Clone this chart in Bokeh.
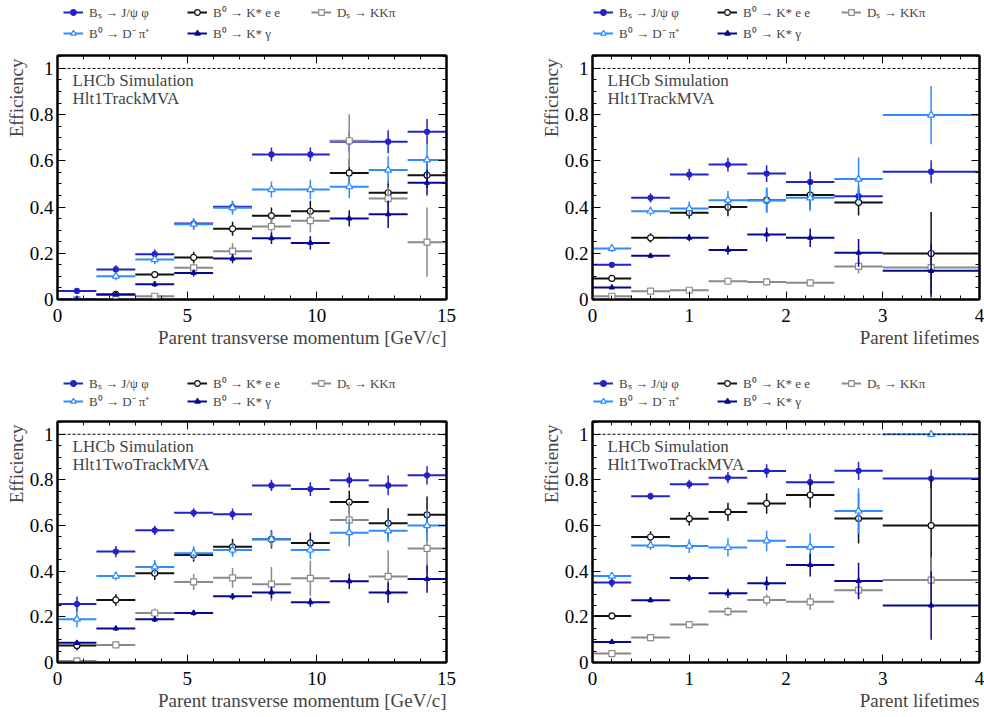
import numpy as np
from bokeh.plotting import figure
from bokeh.models import (Range1d, SingleIntervalTicker, LinearAxis, Span, Label, Title,
                          Legend, LegendItem, ColumnDataSource, CustomJSTickFormatter)
from bokeh.layouts import column, row
from bokeh.embed import file_html
from bokeh.resources import INLINE

# ---------------- data ----------------
pt_edges = [0, 1.5, 3, 4.5, 6, 7.5, 9, 10.5, 12, 13.5, 15]
tau_edges = [0, 0.4, 0.8, 1.2, 1.6, 2.0, 2.5, 3.0, 4.0]

decay_labels = ["Bₛ → J/ψ φ", "B⁰ → K* e e", "Dₛ → KKπ", "B⁰ → D⁻ π⁺", "B⁰ → K* γ"]

# Hlt1TrackMVA vs pT
trk_pt_bs = [0.037, 0.13, 0.196, 0.329, 0.401, 0.628, 0.628, 0.683, 0.683, 0.726]
trk_pt_bs_err = [0.012, 0.018, 0.02, 0.022, 0.025, 0.03, 0.03, 0.045, 0.05, 0.055]
trk_pt_kee = [0.0, 0.022, 0.108, 0.182, 0.306, 0.362, 0.382, 0.548, 0.462, 0.538]
trk_pt_kee_err = [0.005, 0.008, 0.015, 0.025, 0.03, 0.036, 0.045, 0.06, 0.05, 0.055]
trk_pt_ds = [0.0, 0.0, 0.014, 0.137, 0.209, 0.316, 0.341, 0.687, 0.437, 0.248]
trk_pt_ds_err = [0.0, 0.004, 0.008, 0.02, 0.035, 0.04, 0.05, 0.115, 0.05, 0.15]
trk_pt_dpi = [0.0, 0.101, 0.173, 0.326, 0.397, 0.476, 0.476, 0.488, 0.56, 0.604]
trk_pt_dpi_err = [0.005, 0.018, 0.02, 0.025, 0.03, 0.035, 0.042, 0.05, 0.06, 0.07]
trk_pt_kg = [0.0, 0.022, 0.066, 0.115, 0.177, 0.265, 0.245, 0.351, 0.369, 0.505]
trk_pt_kg_err = [0.005, 0.008, 0.012, 0.015, 0.02, 0.025, 0.03, 0.035, 0.06, 0.055]

# Hlt1TrackMVA vs lifetime
trk_tau_bs = [0.15, 0.44, 0.541, 0.584, 0.545, 0.509, 0.447, 0.553]
trk_tau_bs_err = [0.01, 0.02, 0.025, 0.03, 0.036, 0.045, 0.045, 0.05]
trk_tau_kee = [0.091, 0.267, 0.375, 0.40, 0.43, 0.452, 0.42, 0.199]
trk_tau_kee_err = [0.01, 0.02, 0.025, 0.04, 0.05, 0.06, 0.056, 0.18]
trk_tau_ds = [0.014, 0.036, 0.04, 0.079, 0.076, 0.072, 0.143, 0.138]
trk_tau_ds_err = [0.005, 0.006, 0.01, 0.015, 0.015, 0.015, 0.03, 0.03]
trk_tau_dpi = [0.221, 0.382, 0.394, 0.43, 0.43, 0.44, 0.521, 0.798]
trk_tau_dpi_err = [0.015, 0.02, 0.03, 0.04, 0.056, 0.058, 0.094, 0.126]
trk_tau_kg = [0.052, 0.189, 0.267, 0.214, 0.281, 0.267, 0.202, 0.124]
trk_tau_kg_err = [0.006, 0.01, 0.015, 0.02, 0.031, 0.04, 0.06, 0.115]

# Hlt1TwoTrackMVA vs pT
two_pt_bs = [0.256, 0.486, 0.579, 0.656, 0.65, 0.776, 0.76, 0.799, 0.776, 0.82]
two_pt_bs_err = [0.032, 0.025, 0.02, 0.02, 0.025, 0.025, 0.03, 0.032, 0.043, 0.04]
two_pt_kee = [0.074, 0.274, 0.391, 0.471, 0.507, 0.54, 0.524, 0.703, 0.61, 0.647]
two_pt_kee_err = [0.02, 0.025, 0.03, 0.03, 0.035, 0.04, 0.046, 0.05, 0.066, 0.08]
two_pt_ds = [0.007, 0.077, 0.217, 0.353, 0.371, 0.343, 0.369, 0.624, 0.377, 0.50]
two_pt_ds_err = [0.005, 0.01, 0.02, 0.035, 0.043, 0.075, 0.077, 0.08, 0.115, 0.11]
two_pt_dpi = [0.19, 0.379, 0.419, 0.479, 0.493, 0.54, 0.493, 0.569, 0.577, 0.60]
two_pt_dpi_err = [0.036, 0.02, 0.03, 0.03, 0.03, 0.035, 0.04, 0.06, 0.05, 0.07]
two_pt_kg = [0.086, 0.149, 0.189, 0.217, 0.29, 0.307, 0.264, 0.356, 0.307, 0.366]
two_pt_kg_err = [0.01, 0.01, 0.012, 0.012, 0.015, 0.025, 0.02, 0.034, 0.045, 0.06]

# Hlt1TwoTrackMVA vs lifetime
two_tau_bs = [0.35, 0.729, 0.781, 0.81, 0.839, 0.79, 0.84, 0.806]
two_tau_bs_err = [0.02, 0.015, 0.02, 0.025, 0.03, 0.036, 0.04, 0.04]
two_tau_kee = [0.204, 0.55, 0.63, 0.66, 0.697, 0.734, 0.631, 0.6]
two_tau_kee_err = [0.01, 0.025, 0.03, 0.04, 0.045, 0.056, 0.11, 0.21]
two_tau_ds = [0.039, 0.109, 0.166, 0.223, 0.274, 0.266, 0.317, 0.361]
two_tau_ds_err = [0.005, 0.01, 0.015, 0.02, 0.025, 0.036, 0.038, 0.1]
two_tau_dpi = [0.379, 0.513, 0.51, 0.504, 0.533, 0.506, 0.664, 1.0]
two_tau_dpi_err = [0.015, 0.02, 0.03, 0.04, 0.045, 0.06, 0.1, 0.0]
two_tau_kg = [0.09, 0.273, 0.37, 0.303, 0.347, 0.427, 0.357, 0.25]
two_tau_kg_err = [0.005, 0.01, 0.015, 0.02, 0.03, 0.05, 0.08, 0.15]

# ---------------- style ----------------
FONT = "Liberation Serif"
STYLES = [
    dict(color="#2323c8", marker="circle", size=5, fill=None),          # Bs
    dict(color="#111111", marker="circle", size=6, fill="white"),       # K*ee
    dict(color="#8a8a8a", marker="square", size=6, fill="white"),       # Ds
    dict(color="#2f8cff", marker="triangle", size=7, fill="white"),     # Dpi
    dict(color="#080890", marker="triangle", size=5, fill=None),        # K*gamma
]
YMAX = 1.056
LEGEND_SHIFT = 56   # measured offset of the legend strip's first glyph


def add_axes(p, xint):
    bx = LinearAxis(ticker=SingleIntervalTicker(interval=xint, num_minor_ticks=5))
    tx = LinearAxis(ticker=SingleIntervalTicker(interval=xint, num_minor_ticks=5))
    ly = LinearAxis(ticker=SingleIntervalTicker(interval=0.2, num_minor_ticks=4),
                    formatter=CustomJSTickFormatter(code="return String(Number(tick.toFixed(2)));"))
    ry = LinearAxis(ticker=SingleIntervalTicker(interval=0.2, num_minor_ticks=4))
    for ax in (bx, tx, ly, ry):
        ax.major_tick_in = 8
        ax.major_tick_out = 0
        ax.minor_tick_in = 4
        ax.minor_tick_out = 0
        ax.major_tick_line_color = "black"
        ax.minor_tick_line_color = "black"
        ax.axis_line_color = "black"
        ax.axis_line_width = 2
        ax.major_label_text_font = FONT
        ax.major_label_text_font_size = "19px"
        ax.major_label_text_color = "black"
        ax.major_label_standoff = 4
    bx.major_label_standoff = 9
    for ax in (tx, ry):
        ax.formatter = CustomJSTickFormatter(code="return '';")
        ax.major_label_text_font_size = "0px"
        ax.major_label_standoff = 0
    p.add_layout(bx, "below")
    p.add_layout(ly, "left")
    p.add_layout(tx, "above")
    p.add_layout(ry, "right")


def draw_series(p, src, st):
    hr = p.segment(x0="lo", y0="y", x1="hi", y1="y", source=src,
                   line_color=st["color"], line_width=2)
    p.segment(x0="xc", y0="ylo", x1="xc", y1="yhi", source=src,
              line_color=st["color"], line_width=1.5)
    sc = p.scatter(x="xc", y="y", source=src, marker=st["marker"], size=st["size"],
                   line_color=st["color"], line_width=1.2,
                   fill_color=st["fill"] if st["fill"] else st["color"])
    return hr, sc


def make_legend(items, x, y):
    return Legend(items=items, location=(x, y), orientation="horizontal",
                  glyph_width=20, glyph_height=14, label_height=14, label_width=92,
                  label_standoff=6, spacing=6, padding=0, margin=0,
                  label_text_font=FONT, label_text_font_size="13px",
                  background_fill_alpha=0, border_line_alpha=0)


def make_panel(edges, series, trigger, xlabel, xmax, xint, width, height, bl, br, bt, bb,
               leg_h, row1_y, row2_y):
    p = figure(width=width, height=height, output_backend="svg", toolbar_location=None,
               x_range=Range1d(0, xmax), y_range=Range1d(0, YMAX),
               x_axis_location=None, y_axis_location=None,
               min_border_left=bl, min_border_right=br, min_border_top=bt, min_border_bottom=bb)
    p.grid.visible = False
    p.outline_line_color = "black"
    p.outline_line_width = 2
    p.background_fill_color = "white"
    p.border_fill_color = "white"
    add_axes(p, xint)

    p.add_layout(Span(location=1.0, dimension="width", line_color="black",
                      line_width=1, line_dash="3 2"))

    # separate strip above the panel that holds the legend
    lf = figure(width=width, height=leg_h, output_backend="svg", toolbar_location=None,
                x_range=Range1d(-100, -99), y_range=Range1d(-100, -99),
                x_axis_location=None, y_axis_location=None,
                min_border_left=0, min_border_right=0, min_border_top=0, min_border_bottom=0)
    lf.grid.visible = False
    lf.outline_line_color = None
    lf.background_fill_color = "white"
    lf.border_fill_color = "white"

    lo = np.array(edges[:-1], dtype=float)
    hi = np.array(edges[1:], dtype=float)
    xc = (lo + hi) / 2
    items = []
    for (vals, errs), st, lab in zip(series, STYLES, decay_labels):
        v = np.array(vals, dtype=float)
        e = np.array(errs, dtype=float)
        src = ColumnDataSource(dict(lo=lo, hi=hi, xc=xc, y=v, ylo=v - e, yhi=v + e))
        draw_series(p, src, st)
        hr, sc = draw_series(lf, src, st)
        items.append(LegendItem(label=lab, renderers=[hr, sc]))

    lx = bl + 5 - LEGEND_SHIFT
    lf.add_layout(make_legend(items[:3], lx, row1_y))
    lf.add_layout(make_legend(items[3:], lx, row2_y))

    fh = height - bt - bb
    p.add_layout(Label(x=15, y=fh - 25, x_units="screen", y_units="screen",
                       text="LHCb Simulation", text_font=FONT, text_font_size="17px",
                       text_baseline="middle"))
    p.add_layout(Label(x=15, y=fh - 43, x_units="screen", y_units="screen",
                       text=trigger, text_font=FONT, text_font_size="17px",
                       text_baseline="middle"))
    p.add_layout(Title(text="Efficiency", align="right", offset=3, standoff=0,
                       text_font=FONT, text_font_size="19px", text_font_style="normal"), "left")
    p.add_layout(Title(text=xlabel, align="right", offset=0, standoff=0,
                       text_font=FONT, text_font_size="19px", text_font_style="normal"), "below")
    return column(lf, p)


XPT = "Parent transverse momentum [GeV/c]"
XTAU = "Parent lifetimes"

c1 = make_panel(pt_edges,
                [(trk_pt_bs, trk_pt_bs_err), (trk_pt_kee, trk_pt_kee_err), (trk_pt_ds, trk_pt_ds_err),
                 (trk_pt_dpi, trk_pt_dpi_err), (trk_pt_kg, trk_pt_kg_err)],
                "Hlt1TrackMVA", XPT, 15, 5, 538, 327, 57, 92, 11, 72, 44, 23, 2)
c2 = make_panel(tau_edges,
                [(trk_tau_bs, trk_tau_bs_err), (trk_tau_kee, trk_tau_kee_err), (trk_tau_ds, trk_tau_ds_err),
                 (trk_tau_dpi, trk_tau_dpi_err), (trk_tau_kg, trk_tau_kg_err)],
                "Hlt1TrackMVA", XTAU, 4, 1, 446, 327, 52, 5, 11, 72, 44, 23, 2)
c3 = make_panel(pt_edges,
                [(two_pt_bs, two_pt_bs_err), (two_pt_kee, two_pt_kee_err), (two_pt_ds, two_pt_ds_err),
                 (two_pt_dpi, two_pt_dpi_err), (two_pt_kg, two_pt_kg_err)],
                "Hlt1TwoTrackMVA", XPT, 15, 5, 538, 307, 57, 92, 11, 55, 39, 18, 0)
c4 = make_panel(tau_edges,
                [(two_tau_bs, two_tau_bs_err), (two_tau_kee, two_tau_kee_err), (two_tau_ds, two_tau_ds_err),
                 (two_tau_dpi, two_tau_dpi_err), (two_tau_kg, two_tau_kg_err)],
                "Hlt1TwoTrackMVA", XTAU, 4, 1, 446, 307, 52, 5, 11, 55, 39, 18, 0)

layout = column(row(c1, c2), row(c3, c4))
open("out.html", "w").write(file_html(layout, INLINE))
